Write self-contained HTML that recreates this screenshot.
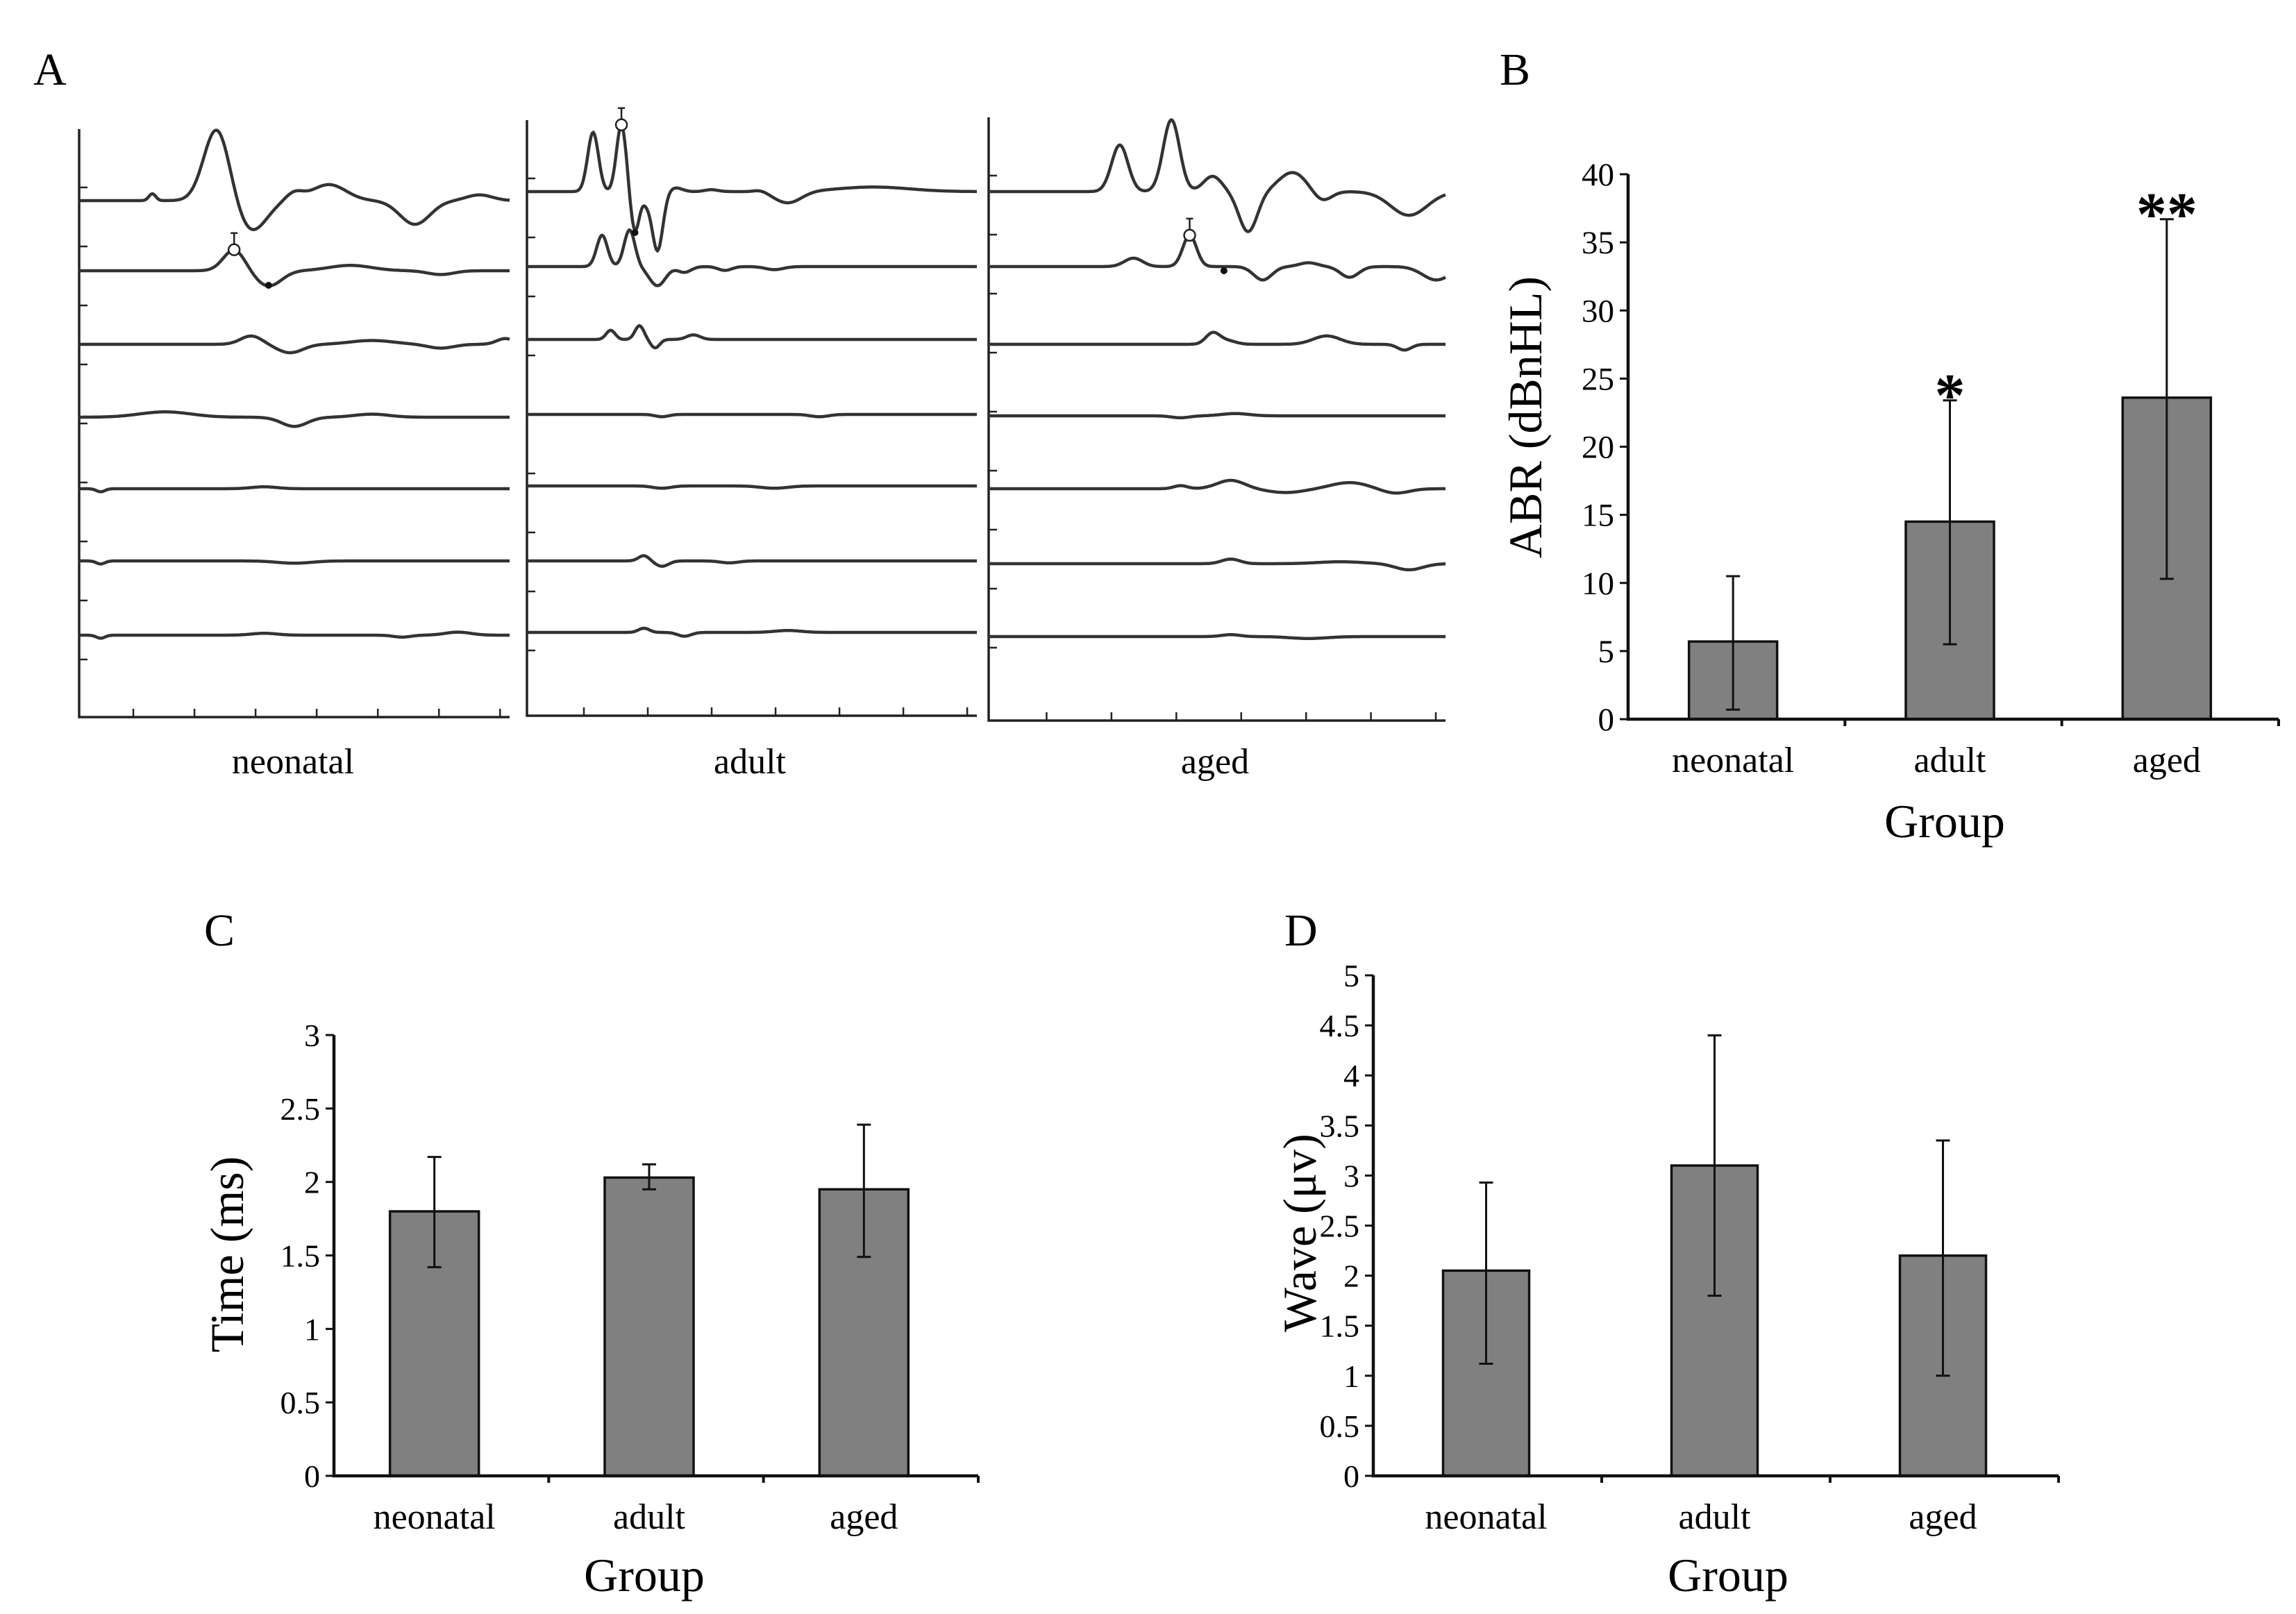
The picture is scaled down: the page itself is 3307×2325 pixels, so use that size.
<!DOCTYPE html>
<html><head><meta charset="utf-8"><style>
html,body{margin:0;padding:0;background:#fff;}
svg{display:block;font-family:"Liberation Serif","DejaVu Serif",serif;}
</style></head><body>
<svg id="fig" width="3307" height="2325" viewBox="0 0 3307 2325" xmlns="http://www.w3.org/2000/svg">
<rect width="3307" height="2325" fill="#fff"/>
<text x="48" y="122" font-size="66">A</text>
<text x="2160" y="122" font-size="66">B</text>
<text x="294" y="1362" font-size="66">C</text>
<text x="1850" y="1362" font-size="66">D</text>
<g id="panelA"></g>
<g id="panelB"></g>
<g id="panelC"></g>
<g id="panelD"></g>
</svg>
<script>
// ---- bar chart data ----
const categories = ["neonatal","adult","aged"];
const abrValues = [5.7, 14.5, 23.6];
const abrErrLow = [0.7, 5.5, 10.3];
const abrErrHigh = [10.5, 23.4, 36.7];
const abrStars = ["", "*", "**"];
const abrTicks = [0,5,10,15,20,25,30,35,40];
const timeValues = [1.8, 2.03, 1.95];
const timeErrLow = [1.42, 1.95, 1.49];
const timeErrHigh = [2.17, 2.12, 2.39];
const timeTicks = [0,0.5,1,1.5,2,2.5,3];
const waveValues = [2.05, 3.1, 2.2];
const waveErrLow = [1.12, 1.8, 1.0];
const waveErrHigh = [2.93, 4.4, 3.35];
const waveTicks = [0,0.5,1,1.5,2,2.5,3,3.5,4,4.5,5];

// ---- waveform data: bumps [xFrac, amplitude(px, up positive), widthFrac] per trace ----
const neonatalTraces = [
  [[0.17,18,0.008],[0.32,190,0.03],[0.40,-80,0.035],[0.58,42,0.04],[0.50,20,0.02],[0.78,-62,0.035],[0.93,15,0.03]],
  [[0.36,55,0.025],[0.44,-40,0.03],[0.63,14,0.05],[0.84,-10,0.03]],
  [[0.40,22,0.025],[0.49,-22,0.03],[0.68,10,0.05],[0.84,-10,0.03],[0.99,15,0.02]],
  [[0.20,14,0.06],[0.50,-24,0.03],[0.68,8,0.04]],
  [[0.05,-8,0.01],[0.43,5,0.03]],
  [[0.05,-8,0.01],[0.50,-6,0.04]],
  [[0.05,-8,0.01],[0.43,5,0.03],[0.75,-5,0.02],[0.88,8,0.03]]
];
const adultTraces = [
  [[0.147,155,0.012],[0.21,175,0.011],[0.24,-105,0.01],[0.265,-20,0.008],[0.29,-155,0.012],[0.33,10,0.015],[0.41,5,0.015],[0.52,5,0.015],[0.58,-30,0.03],[0.77,12,0.08]],
  [[0.167,82,0.012],[0.228,96,0.012],[0.29,-50,0.018],[0.35,-15,0.015],[0.44,-10,0.015],[0.55,-8,0.02]],
  [[0.186,24,0.01],[0.25,36,0.01],[0.285,-22,0.01],[0.37,12,0.015]],
  [[0.30,-6,0.015],[0.65,-6,0.02]],
  [[0.30,-6,0.02],[0.55,-6,0.03]],
  [[0.26,14,0.012],[0.30,-14,0.015],[0.45,-5,0.02]],
  [[0.26,11,0.012],[0.35,-10,0.015],[0.58,5,0.03]]
];
const agedTraces = [
  [[0.287,122,0.018],[0.40,188,0.018],[0.49,40,0.02],[0.568,-105,0.02],[0.665,50,0.03],[0.73,-25,0.02],[0.92,-62,0.04]],
  [[0.317,22,0.02],[0.44,82,0.015],[0.60,-35,0.02],[0.70,10,0.02],[0.79,-28,0.02],[0.98,-35,0.03]],
  [[0.49,28,0.015],[0.52,10,0.02],[0.74,22,0.03],[0.91,-15,0.015]],
  [[0.42,-5,0.02],[0.54,6,0.03]],
  [[0.42,8,0.015],[0.53,22,0.03],[0.65,-10,0.04],[0.79,16,0.04],[0.89,-12,0.03]],
  [[0.53,12,0.02],[0.77,5,0.05],[0.92,-16,0.03]],
  [[0.53,5,0.02],[0.70,-5,0.04]]
];
const AMP = 0.55;

const NS="http://www.w3.org/2000/svg";
function mk(parent, tag, attrs, text){
  const e=document.createElementNS(NS,tag);
  for(const k in attrs) e.setAttribute(k,attrs[k]);
  if(text!==undefined) e.textContent=text;
  parent.appendChild(e); return e;
}

// ---- Panel A ----
const panelA=document.getElementById('panelA');
const subpanels=[
  {name:"neonatal",x0:114,x1:734,top:186,bottom:1033,traces:neonatalTraces,bases:[289,390,496,601,704,808,915],lx:422},
  {name:"adult",x0:759,x1:1407,top:173,bottom:1031,traces:adultTraces,bases:[276,384,489,597,700,808,911],lx:1080},
  {name:"aged",x0:1424,x1:2082,top:169,bottom:1038,traces:agedTraces,bases:[276,384,496,599,704,812,917],lx:1750}
];
const markers=[
  {panel:0,trace:1,xf:0.36,yOff:-55,dotXf:0.44,dotOff:21},
  {panel:1,trace:0,xf:0.21,yOff:-175,dotXf:0.24,dotOff:59},
  {panel:2,trace:1,xf:0.44,yOff:-82,dotXf:0.515,dotOff:6}
];
subpanels.forEach((p,pi)=>{
  const g=mk(panelA,'g',{});
  
  
  const ax=mk(g,'path',{d:`M${p.x0},${p.top} L${p.x0},${p.bottom} L${p.x1},${p.bottom}`,stroke:'#222','stroke-width':3.5,fill:'none'});
  
  
  for(let i=0;i<9;i++){
    const y=p.top+84+i*85;
    mk(g,'line',{x1:p.x0,x2:p.x0+12,y1:y,y2:y,stroke:'#222','stroke-width':2.5});
  }
  const w=p.x1-p.x0;
  for(let i=1;i<=7;i++){
    const x=p.x0+w*(i*0.142)-10;
    mk(g,'line',{x1:x,x2:x,y1:p.bottom,y2:p.bottom-12,stroke:'#222','stroke-width':2.5});
  }
  p.traces.forEach((bumps,ti)=>{
    const base=p.bases[ti];
    let d='';
    const N=400;
    for(let s=0;s<=N;s++){
      const f=s/N;
      let v=0;
      bumps.forEach(b=>{const z=(f-b[0])/b[2]; v+=b[1]*Math.exp(-0.5*z*z);});
      const x=p.x0+w*f, y=base-v*AMP;
      d+=(s?'L':'M')+x.toFixed(1)+','+y.toFixed(1);
    }
    const path=mk(g,'path',{d:d,stroke:'#333','stroke-width':4.5,fill:'none'});
    
    
  });
  const lbl=mk(g,'text',{x:p.lx,y:1114,'font-size':52,'text-anchor':'middle'},p.name);
  
  
});
markers.forEach(m=>{
  const p=subpanels[m.panel];
  const w=p.x1-p.x0;
  const x=p.x0+w*m.xf, y=p.bases[m.trace]+m.yOff*AMP;
  const c=mk(panelA,'circle',{cx:x,cy:y,r:8,fill:'#fff',stroke:'#222','stroke-width':2.5});
  
  
  mk(panelA,'line',{x1:x,x2:x,y1:y-8,y2:y-24,stroke:'#222','stroke-width':2.5});
  mk(panelA,'line',{x1:x-5,x2:x+5,y1:y-24,y2:y-24,stroke:'#222','stroke-width':2.5});
  const dx=p.x0+w*m.dotXf;
  mk(panelA,'circle',{cx:dx,cy:p.bases[m.trace]+m.dotOff,r:5,fill:'#111'});
});

// ---- bar chart helper ----
function barChart(gid, cfg){
  const g=document.getElementById(gid);
  const yScale=v=>cfg.y0-(v-cfg.ticks[0])/(cfg.ticks[cfg.ticks.length-1]-cfg.ticks[0])*(cfg.y0-cfg.yTop);
  const step=(cfg.xEnd-cfg.x0)/categories.length;
  const xCenter=i=>cfg.x0+step*(i+0.5)+cfg.shift;
  categories.forEach((c,i)=>{
    const xc=xCenter(i), v=cfg.values[i];
    const bar=mk(g,'rect',{x:xc-cfg.bw/2,y:yScale(v),width:cfg.bw,height:cfg.y0-yScale(v),fill:'#808080',stroke:'#111','stroke-width':3.5});
    
    
    const eb=mk(g,'path',{d:`M${xc},${yScale(cfg.lo[i])} L${xc},${yScale(cfg.hi[i])} M${xc-10},${yScale(cfg.lo[i])} L${xc+10},${yScale(cfg.lo[i])} M${xc-10},${yScale(cfg.hi[i])} L${xc+10},${yScale(cfg.hi[i])}`,stroke:'#111','stroke-width':3,fill:'none'});
    
    
    const cl=mk(g,'text',{x:xc,y:cfg.catY,'font-size':cfg.catSize,'text-anchor':'middle'},c);
    
    
    if(cfg.stars && cfg.stars[i]){
      const st=mk(g,'text',{x:xc,y:yScale(cfg.hi[i])+22,'font-size':88,'font-weight':'bold','text-anchor':'middle'},cfg.stars[i]);
      
      
    }
  });
  const axes=mk(g,'path',{d:`M${cfg.x0},${cfg.yTop} L${cfg.x0},${cfg.y0} L${cfg.xEnd},${cfg.y0}`,stroke:'#111','stroke-width':4.5,fill:'none'});
  
  
  for(let i=1;i<=categories.length;i++){
    const x=cfg.x0+step*i;
    mk(g,'line',{x1:x,x2:x,y1:cfg.y0,y2:cfg.y0+10,stroke:'#111','stroke-width':4});
  }
  cfg.ticks.forEach(t=>{
    const y=yScale(t);
    mk(g,'line',{x1:cfg.x0-12,x2:cfg.x0,y1:y,y2:y,stroke:'#111','stroke-width':3});
    const tl=mk(g,'text',{x:cfg.x0-20,y:y+16,'font-size':cfg.tickSize,'text-anchor':'end'},String(t));
    
    
  });
  const yt=mk(g,'text',{x:cfg.ytx,y:cfg.yty,'font-size':cfg.titleSize,'text-anchor':'middle',transform:`rotate(-90 ${cfg.ytx} ${cfg.yty})`},cfg.ytitle);
  
  
  const xt=mk(g,'text',{x:cfg.xtx,y:cfg.xty,'font-size':cfg.titleSize,'text-anchor':'middle'},'Group');
  
  
}

barChart('panelB',{values:abrValues,lo:abrErrLow,hi:abrErrHigh,stars:abrStars,ticks:abrTicks,
  x0:2345,xEnd:3282,y0:1036,yTop:251,bw:127,shift:-5,catY:1112,catSize:52,tickSize:47,titleSize:68,
  ytitle:'ABR (dBnHL)',ytx:2220,yty:601,xtx:2801,xty:1206});
barChart('panelC',{values:timeValues,lo:timeErrLow,hi:timeErrHigh,ticks:timeTicks,
  x0:481,xEnd:1409,y0:2126,yTop:1491,bw:128,shift:-10,catY:2202,catSize:52,tickSize:46,titleSize:68,
  ytitle:'Time (ms)',ytx:350,yty:1807,xtx:928,xty:2292});
barChart('panelD',{values:waveValues,lo:waveErrLow,hi:waveErrHigh,ticks:waveTicks,
  x0:1978,xEnd:2965,y0:2126,yTop:1405,bw:124,shift:-2,catY:2202,catSize:52,tickSize:46,titleSize:68,
  ytitle:'Wave (μv)',ytx:1895,yty:1776,xtx:2489,xty:2292});
</script>
</body></html>
